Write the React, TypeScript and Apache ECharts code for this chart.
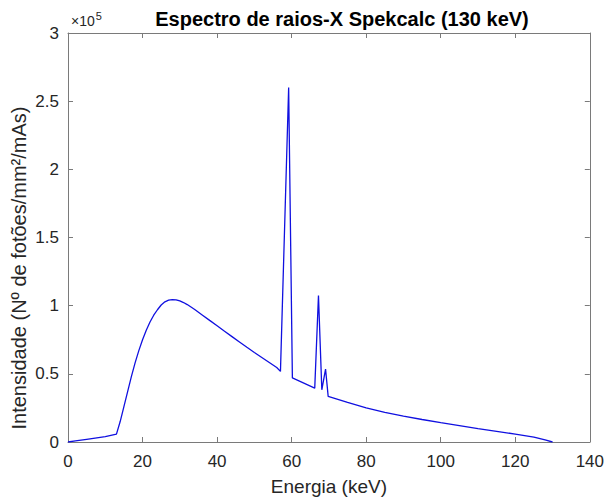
import React, { useEffect, useRef } from "react";
import * as echarts from "echarts";

// Energy (keV)
const energies: number[] = [
  0, 2, 5, 10, 13, 14, 15, 16, 17, 18, 19, 20, 21, 22, 23, 24, 25, 26, 27, 28,
  29, 30, 31, 32, 34, 36, 38, 40, 42, 44, 46, 48, 50, 52, 54, 56, 57, 59.2,
  60.2, 66.2, 67.2, 68.1, 69.1, 69.8, 75, 80, 85, 90, 95, 100, 105, 110, 115,
  120, 125, 128, 130,
];

// Intensity (photons/mm^2/mAs)
const intensities: number[] = [
  0, 800, 2000, 4000, 5800, 15000, 26000, 37000, 48000, 58000, 67000, 75000,
  82000, 88000, 93000, 97000, 100500, 102800, 104000, 104500, 104300, 103500,
  102300, 100800, 97200, 93200, 89200, 85300, 81200, 77300, 73400, 69500,
  65700, 62000, 58300, 54600, 51800, 260000, 47000, 39500, 107500, 38300,
  53500, 33500, 29000, 25000, 21800, 19000, 16500, 14200, 12000, 9800, 7800,
  5800, 3500, 1500, 0,
];

const xTicks: number[] = [0, 20, 40, 60, 80, 100, 120, 140];
const yTickLabels: string[] = ["0", "0.5", "1", "1.5", "2", "2.5", "3"];

const TITLE = "Espectro de raios-X Spekcalc (130 keV)";
const X_NAME = "Energia (keV)";
const Y_NAME = "Intensidade (Nº de fotões/mm²/mAs)";

export default function App() {
  const ref = useRef<HTMLDivElement>(null);

  useEffect(() => {
    if (!ref.current) return;
    const chart = echarts.init(ref.current, undefined, { renderer: "svg" });
    const data = energies.map((e, i) => [e, intensities[i]]);
    const axisColor = "#7a7a7a";
    const textColor = "#262626";
    const font = "Liberation Sans, Arial, Helvetica, sans-serif";

    const tickCommon = {
      show: true,
      inside: true,
      length: 5,
      lineStyle: { color: axisColor, width: 1 },
    };

    chart.setOption({
      animation: false,
      backgroundColor: "#ffffff",
      textStyle: { fontFamily: font },
      title: {
        text: TITLE,
        left: 337,
        top: 4,
        textAlign: "center",
        textStyle: {
          fontFamily: font,
          fontSize: 20,
          fontWeight: "bold",
          color: "#000000",
        },
      },
      grid: { left: 68, right: 13, top: 33, bottom: 53, containLabel: false },
      xAxis: [
        {
          type: "value",
          position: "bottom",
          min: xTicks[0],
          max: xTicks[xTicks.length - 1],
          interval: 20,
          axisLine: { show: true, onZero: false, lineStyle: { color: axisColor, width: 1 } },
          axisTick: tickCommon,
          axisLabel: {
            show: true,
            margin: 11,
            fontSize: 17,
            color: textColor,
            fontFamily: font,
          },
          splitLine: { show: false },
          name: X_NAME,
          nameLocation: "middle",
          nameGap: 35,
          nameTextStyle: { fontSize: 19, color: textColor, fontFamily: font },
        },
        {
          type: "value",
          position: "top",
          min: xTicks[0],
          max: xTicks[xTicks.length - 1],
          interval: 20,
          axisLine: { show: true, onZero: false, lineStyle: { color: axisColor, width: 1 } },
          axisTick: tickCommon,
          axisLabel: { show: false },
          splitLine: { show: false },
        },
      ],
      yAxis: [
        {
          type: "value",
          position: "left",
          min: 0,
          max: 300000,
          interval: 50000,
          axisLine: { show: true, onZero: false, lineStyle: { color: axisColor, width: 1 } },
          axisTick: tickCommon,
          axisLabel: {
            show: true,
            margin: 9,
            fontSize: 17,
            color: textColor,
            fontFamily: font,
            formatter: (v: number) => yTickLabels[Math.round(v / 50000)] ?? "",
          },
          splitLine: { show: false },
        },
        {
          type: "value",
          position: "right",
          min: 0,
          max: 300000,
          interval: 50000,
          axisLine: { show: true, onZero: false, lineStyle: { color: axisColor, width: 1 } },
          axisTick: tickCommon,
          axisLabel: { show: false },
          splitLine: { show: false },
        },
      ],
      graphic: [
        {
          type: "text",
          x: 19,
          y: 268,
          rotation: Math.PI / 2,
          style: {
            text: Y_NAME,
            fontSize: 20,
            fontFamily: font,
            fill: textColor,
            align: "center",
            verticalAlign: "middle",
          },
        },
        {
          type: "text",
          x: 71,
          y: 21,
          style: {
            text: "{a|×10}{b|5}",
            rich: {
              a: { fontSize: 14, fontFamily: font, fill: textColor, color: textColor },
              b: {
                fontSize: 11,
                fontFamily: font,
                fill: textColor,
                color: textColor,
                verticalAlign: "bottom",
                padding: [0, 0, 10, 1],
              },
            },
            verticalAlign: "middle",
          },
        },
      ],
      series: [
        {
          type: "line",
          xAxisIndex: 0,
          yAxisIndex: 0,
          data,
          showSymbol: false,
          symbol: "none",
          smooth: false,
          lineStyle: { color: "#1010e0", width: 1.3 },
          itemStyle: { color: "#1010e0" },
        },
      ],
    });

    return () => chart.dispose();
  }, []);

  return (
    <div
      ref={ref}
      style={{ position: "fixed", left: 0, top: 0, width: 607, height: 501, background: "#fff" }}
    />
  );
}
